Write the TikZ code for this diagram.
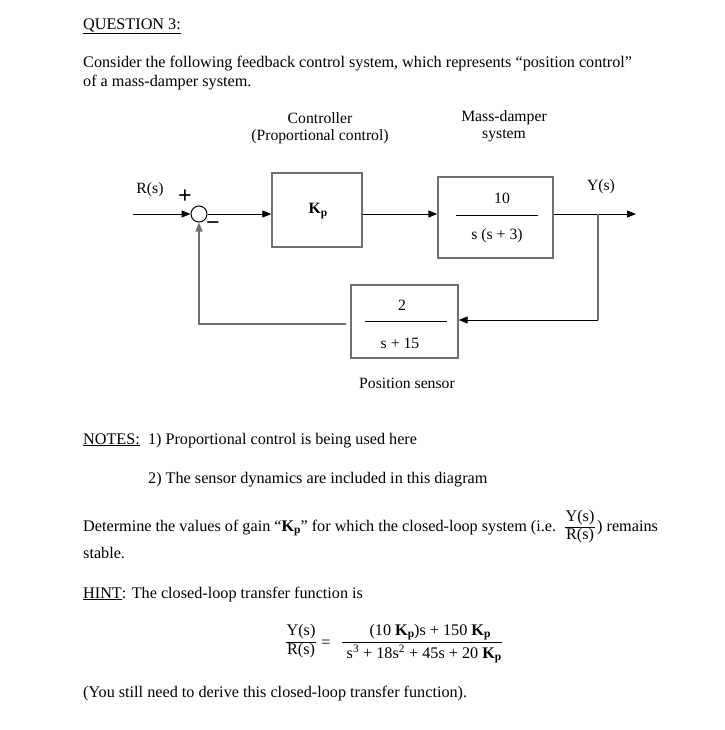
\documentclass[tikz,border=0pt]{standalone}
\usepackage{fontspec}
\setmainfont{Liberation Serif}
\usetikzlibrary{arrows.meta}
\definecolor{bx}{HTML}{707070}
\tikzset{
  txt/.style={inner sep=0pt,font=\fontsize{16.2}{19}\selectfont},
  lbl/.style={inner sep=0pt,font=\fontsize{15.7}{18}\selectfont},
  blk/.style={draw=bx,line width=1.3pt,inner sep=0pt},
  sig/.style={line width=1pt,-{Triangle[length=9pt,width=7pt]}},
  fb/.style={draw=bx,line width=1.3pt},
  bar/.style={line width=0.9pt},
  sgn/.style={inner sep=0pt,font=\fontsize{24}{24}\selectfont\bfseries}
}
\newcommand{\Kp}{\textbf{K}\raisebox{-0.35ex}{\fontsize{11.5}{12}\selectfont\bfseries p}}
\begin{document}
\begin{tikzpicture}[x=1pt,y=-1pt]
\useasboundingbox (0,0) rectangle (724,730);
\fill[white] (0,0) rectangle (724,730);
% header texts
\node[txt,anchor=base west] (q) at (83,29.5) {\underline{QUESTION 3:}};
\node[txt,anchor=base west] (c1) at (83,68) {Consider the following feedback control system, which represents “position control”};
\node[txt,anchor=base west] (c2) at (83,86.5) {of a mass-damper system.};
% block labels
\node[lbl] (lc1) at (320,118) {Controller};
\node[lbl] (lc2) at (320,137) {(Proportional control)};
\node[lbl] (lp1) at (504,118) {Mass-damper};
\node[lbl] (lp2) at (504,136) {system};
% blocks
\node[blk,minimum width=90pt,minimum height=74pt] (kp) at (317,210) {};
\node[lbl] (kpt) at (318,211) {\Kp};
\node[blk,minimum width=115pt,minimum height=81pt] (pl) at (495.5,217.5) {};
\node[lbl] (pn) at (502,198) {10};
\node[lbl] (pd) at (497,236) {s (s + 3)};
\draw[bar] (456,215) -- (538,215);
\node[blk,minimum width=107pt,minimum height=73pt] (se) at (404.5,321.5) {};
\node[lbl] (sn) at (402,305) {2};
\node[lbl] (sd) at (400,343) {s + 15};
\draw[bar] (365,321) -- (447,321);
\node[lbl] (ps) at (407,383) {Position sensor};
% summing junction
\node[draw,circle,line width=1pt,minimum size=16pt,inner sep=0pt] (sum) at (199,214) {};
\node[lbl] (rs) at (150,190) {R(s)};
\node[sgn] (plus) at (185,197) {+};
\node[sgn] (minus) at (213,226) {−};
\node[lbl] (ys) at (601,187) {Y(s)};
% connectors
\coordinate (rin) at (133,214);
\coordinate (yout) at (636,214);
\coordinate (br) at (598,214);
\coordinate (brd) at (598,320);
\coordinate (lft) at (346,324);
\draw[sig] (rin) -- (sum.west);
\draw[sig] (sum.east) -- (kp.west |- sum.east);
\draw[sig] (kp.east |- sum.east) -- (pl.west |- sum.east);
\draw[sig] (pl.east |- sum.east) -- (yout);
\draw[fb] (br) -- (brd);
\draw[sig] (brd) -- (se.east |- brd);
\draw[fb,-{Triangle[length=9pt,width=7pt]}] (lft) -| (sum.south);
% notes
\node[txt,anchor=base west] (n1) at (83,444) {\underline{NOTES:}\ \ 1) Proportional control is being used here};
\node[txt,anchor=base west] (n2) at (148,483) {2) The sensor dynamics are included in this diagram};
\node[txt,anchor=base west] (d1) at (83,531) {Determine the values of gain “\Kp” for which the closed-loop system (i.e.};
\node[txt] (fy) at (580,518) {Y(s)};
\node[txt] (fr) at (580,536) {R(s)};
\draw[bar] (565,527) -- (595,527);
\node[txt,anchor=base west] (d2) at (597,531) {) remains};
\node[txt,anchor=base west] (d3) at (83,558.5) {stable.};
\node[txt,anchor=base west] (h1) at (83,598) {\underline{HINT}: The closed-loop transfer function is};
% equation
\node[txt] (ey) at (301,632) {Y(s)};
\node[txt] (er) at (301,651) {R(s)};
\draw[bar] (286,642) -- (316,642);
\node[txt] (eq) at (326,644) {=};
\node[txt] (en) at (430,632) {(10 \Kp)s + 150 \Kp};
\node[txt] (ed) at (424,654) {s\textsuperscript{3} + 18s\textsuperscript{2} + 45s + 20 \Kp};
\draw[bar] (342,642) -- (502,642);
\node[txt,anchor=base west] (yn) at (83,697) {(You still need to derive this closed-loop transfer function).};
\end{tikzpicture}
\end{document}
